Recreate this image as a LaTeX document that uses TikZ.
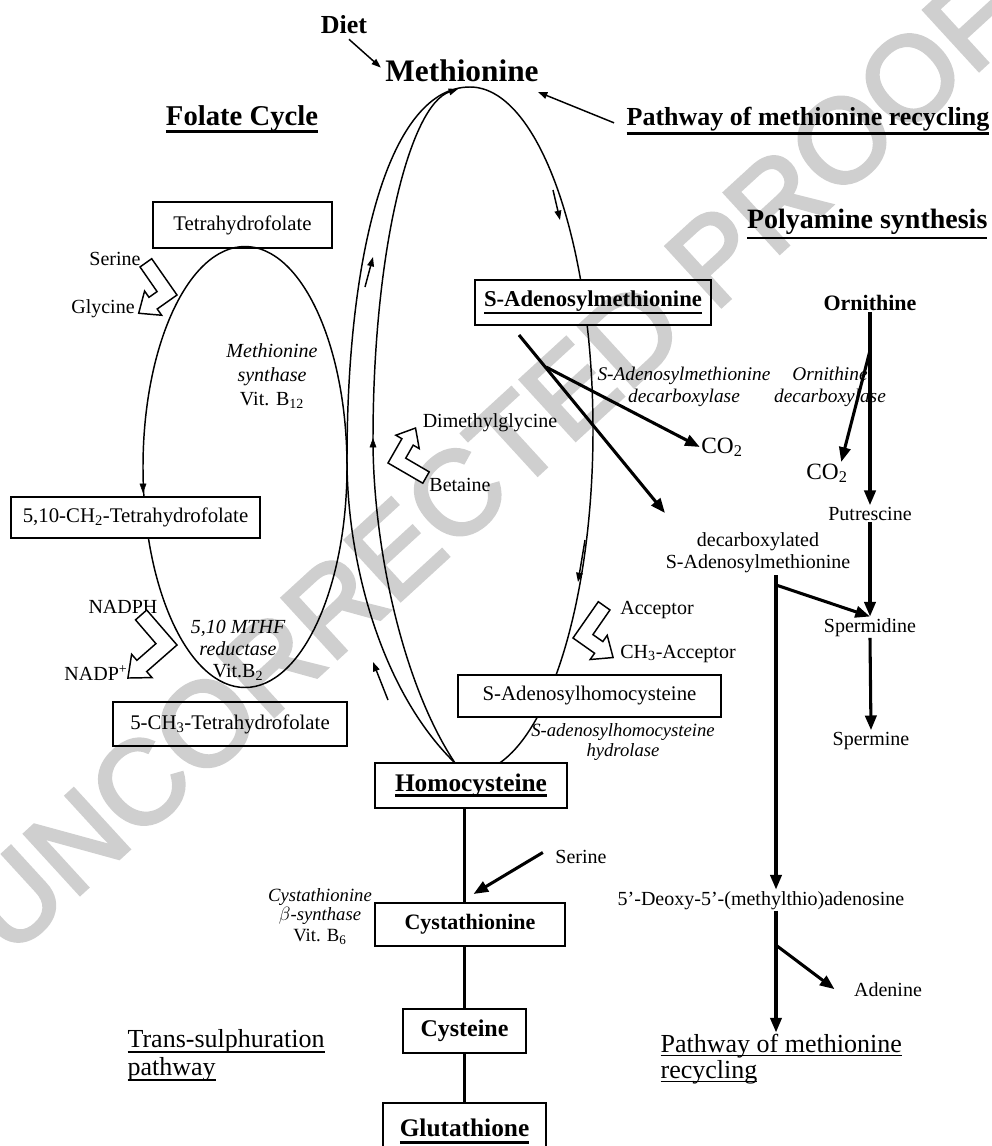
\documentclass[tikz,border=0pt]{standalone}
\usepackage{fontspec}
\setmainfont{Liberation Serif}
\setsansfont{Liberation Sans}
\newfontfamily\proofmark{Liberation Sans}[FakeBold=3]
\usetikzlibrary{arrows.meta,calc}

\newcommand\fs[2]{\fontsize{#1}{#2}\selectfont}
% text with a bar under it: depth, thickness, text
\newcommand\ulbar[3]{\setbox0\hbox{#3}\leavevmode\rlap{\rule[-#1]{\wd0}{#2}}\box0}
% hollow bent arrow: position, transform, length of the arrow arm
\newcommand\hollowbend[3]{%
  \pgfmathsetmacro\hbx{-0.817*#3}%
  \pgfmathsetmacro\hby{0.577*#3}%
  \begin{scope}[shift={#1},#2]
    \draw[hollow] (0,0) -- (-23,-33) -- (-33.6,-25.5) -- (-18.1,-3.1)
      -- ({\hbx-7.5},{\hby-10.6}) -- ({\hbx-11.5},{\hby-16.3})
      -- ({\hbx-16.85},{\hby+3.9}) -- ({\hbx+4},{\hby+5.7})
      -- (\hbx,\hby) -- cycle;
  \end{scope}}

\begin{document}
\begin{tikzpicture}[x=0.75pt, y=-0.75pt,
  every node/.style={inner sep=1pt},
  txt/.style={font=\fs{15}{16.5}},
  boxtxt/.style={font=\fs{15.6}{17}},
  enz/.style={font=\fs{15}{18}\itshape, align=center},
  boxed/.style={draw, line width=1.5pt, inner sep=0pt},
  curve/.style={line width=1.1pt},
  tip/.style={-{Triangle[length=7pt,width=5pt]}},
  fat/.style={line width=2.3pt},
  fatarrow/.style={line width=2.3pt, -{Triangle[length=11pt,width=8.5pt]}},
  hollow/.style={line width=1.1pt, fill=white, line join=miter}]

\useasboundingbox (0,0) rectangle (992,1146);

% watermark
\node[rotate=42.5, text=black!19, font=\fs{89}{89}\proofmark] (proof) at (490,463) {UNCORRECTED PROOF};

% boxes
\node[boxed, boxtxt, minimum width=134.25pt, minimum height=34.5pt] (thf) at (242.5,225) {Tetrahydrofolate};
\node[boxed, boxtxt, minimum width=186.75pt, minimum height=30.75pt] (mthf510) at (135.5,517.5) {5,10-CH\textsubscript{2}-Tetrahydrofolate};
\node[boxed, boxtxt, minimum width=175.5pt, minimum height=33pt] (mthf5) at (230,724) {5-CH\textsubscript{3}-Tetrahydrofolate};
\node[boxed, font=\fs{17}{20}\bfseries, minimum width=177pt, minimum height=33.75pt] (sam) at (593,302.5) {\ulbar{6pt}{2pt}{S-Adenosylmethionine}};
\node[boxed, boxtxt, minimum width=197.25pt, minimum height=31.5pt] (sah) at (589.5,696) {S-Adenosylhomocysteine};
\node[boxed, font=\fs{19}{22}\bfseries, minimum width=144pt, minimum height=33.75pt] (hcy) at (471,785.5) {\ulbar{4pt}{2.2pt}{Homocysteine}};
\node[boxed, font=\fs{16.5}{20}\bfseries, minimum width=142.5pt, minimum height=32.25pt] (cysta) at (470,924.5) {Cystathionine};
\node[boxed, font=\fs{18}{20}\bfseries, minimum width=92.25pt, minimum height=33pt] (cys) at (464.5,1031) {Cysteine};
\node[boxed, font=\fs{19}{22}\bfseries, minimum width=122.25pt, minimum height=42.75pt] (gsh) at (464.5,1131.5) {\ulbar{5pt}{2pt}{Glutathione}};

% headings
\node[anchor=base, font=\fs{19.5}{22}\bfseries] (diet) at (344,33) {Diet};
\node[anchor=base, font=\fs{23.5}{26}\bfseries] (met) at (462,81) {Methionine};
\node[anchor=base, font=\fs{21.5}{24}\bfseries] (folate) at (242,125) {\ulbar{6pt}{2.2pt}{Folate Cycle}};
\node[anchor=base east, font=\fs{19.5}{22}\bfseries] (ptop) at (991,125) {\ulbar{7.5pt}{2.2pt}{Pathway of methionine recycling}};
\node[anchor=base east, font=\fs{21}{24}\bfseries] (poly) at (989,228) {\ulbar{8.5pt}{2pt}{Polyamine synthesis}};

% folate cycle labels
\node[txt, anchor=base] (ser1) at (115,265) {Serine};
\node[txt, anchor=base] (gly) at (103,313) {Glycine};
\node[enz] (ms) at (272,376) {Methionine\\synthase\\\upshape Vit. B\textsubscript{12}};
\node[enz, font=\fs{15}{16.5}\itshape] (mthfr) at (238,650) {5,10 MTHF\\reductase\\\upshape Vit.B\textsubscript{2}};
\node[txt, anchor=base] (nadph) at (123,613) {NADPH};
\node[txt, anchor=base] (nadp) at (96,680) {NADP\textsuperscript{+}};

% methionine cycle labels
\node[txt, anchor=base] (dmg) at (490,427) {Dimethylglycine};
\node[txt, anchor=base] (bet) at (460,491) {Betaine};
\node[txt, anchor=base] (acc) at (657,614) {Acceptor};
\node[txt, anchor=base] (ch3acc) at (678,658) {CH\textsubscript{3}-Acceptor};
\node[enz, font=\fs{14}{15}\itshape] (sahh) at (623,742) {S-adenosylhomocysteine\\hydrolase};

% polyamine labels
\node[enz, font=\fs{14.5}{17}\itshape] (samdc) at (684,387) {S-Adenosylmethionine\\decarboxylase};
\node[enz, font=\fs{14.5}{17}\itshape] (odc) at (830,387) {Ornithine\\decarboxylase};
\node[anchor=base, font=\fs{16.5}{20}\bfseries] (orn) at (870,310) {Ornithine};
\node[anchor=base, font=\fs{17.5}{20}] (co2a) at (722,453) {CO\textsubscript{2}};
\node[anchor=base, font=\fs{17.5}{20}] (co2b) at (827,479) {CO\textsubscript{2}};
\node[txt, anchor=base] (put) at (870,520) {Putrescine};
\node[txt, align=center] (dcsam) at (758,553) {decarboxylated\\S-Adenosylmethionine};
\node[txt, anchor=base] (spd) at (870,632) {Spermidine};
\node[txt, anchor=base] (spm) at (871,745) {Spermine};
\node[txt, anchor=base] (mta) at (761,905) {5’-Deoxy-5’-(methylthio)adenosine};
\node[txt, anchor=base] (ade) at (888,996) {Adenine};
\node[font=\fs{19.5}{19.5}, align=left, anchor=west] (pbot) at (659,1059) {\ulbar{2.5pt}{0.8pt}{Pathway of methionine}\\\ulbar{2.5pt}{0.8pt}{recycling}};

% trans-sulphuration labels
\node[txt, anchor=base] (ser2) at (581,863) {Serine};
\node[enz, font=\fs{14}{13}\itshape] (cbs) at (320,917) {Cystathionine\\$\beta$-synthase\\[3pt]\upshape Vit. B\textsubscript{6}};
\node[font=\fs{19.5}{21}, align=left, anchor=west] (tsp) at (126,1055) {\ulbar{4pt}{0.8pt}{Trans-sulphuration}\\\ulbar{4pt}{0.8pt}{pathway}};

% cycles, kept out of the boxes
\begin{scope}[even odd rule]
\clip (-10,-10) rectangle (1010,1170)
  (sam.south west) rectangle (sam.north east)
  (sah.south west) rectangle (sah.north east)
  (hcy.south west) rectangle (hcy.north east)
  (mthf510.south west) rectangle (mthf510.north east);
\draw[curve] (245,467) ellipse [x radius=102, y radius=220.5];
\coordinate (hcyin) at (455,763);
\draw[curve] (hcyin) .. controls (380,690) and (347,560) .. (347,460)
  .. controls (347,250) and (390,87) .. (470,87)
  .. controls (538,87) and (593,241) .. (593,430)
  .. controls (593,619) and (538,773) .. (470,773);
\draw[curve, tip] (hcyin) .. controls (400,680) and (373,540) .. (373,440)
  .. controls (373,250) and (410,105) .. (458,89);
\end{scope}
\draw[tip] (143,478) -- (143,493);
\draw[tip] (373,452) -- (373,438);

% small side arrows
\draw[curve, tip] (365,287) -- (373,257);
\draw[curve, tip] (388,700) -- (373,662);
\draw[curve, tip] (553,190) -- (560,220);
\draw[curve, tip] (585,540) -- (578,582);

% hollow arrows
\hollowbend{(177,295)}{scale=1.1}{22}
\hollowbend{(177,645)}{rotate=6,scale=1.15}{35}
\hollowbend{(388,463)}{rotate=-155}{28}
\hollowbend{(573,638)}{xscale=-1.1,yscale=1.1}{24}

% into methionine
\coordinate (metr) at (538,92);
\draw[curve, tip, shorten <=5pt, shorten >=3pt] (diet.south) -- (met.west);
\draw[curve, tip] ($(ptop.west)+(-11,2)$) -- (metr);

% polyamines
\coordinate (samout) at (519,335);
\coordinate (sambr) at (546,367);
\coordinate (dcin) at (665,513);
\draw[fatarrow] (samout) -- (dcin);
\draw[fatarrow] (sambr) -- (co2a.west);
\coordinate (ornbr) at ($(orn.south)!0.2!(put.north)$);
\draw[fatarrow] (orn.south) -- (put.north);
\draw[fatarrow] (ornbr) -- ($(co2b.north east)+(-8,0)$);
\draw[fatarrow] (put.south) -- (spd.north);
\draw[fatarrow] (spd.south) -- (spm.north);
\coordinate (dcv) at (776,575);
\draw[fatarrow] (dcv) -- (dcv |- mta.north);
\draw[fatarrow] ($(dcv)+(0,10)$) -- (spd.north);
\draw[fatarrow] (dcv |- mta.south) -- (dcv |- pbot.north);
\coordinate (adebr) at ($(dcv |- mta.south)+(1,35)$);
\draw[fatarrow] (adebr) -- ($(ade.west)+(-18,0)$);

% trans-sulphuration
\draw[fat] (hcy.south -| cys) -- (cysta.north -| cys);
\draw[fat] (cysta.south -| cys) -- (cys.north);
\draw[fat] (cys.south) -- (gsh.north -| cys);
\draw[fatarrow] ($(ser2.west)+(-11,-4)$) -- ($(cysta.north -| cys)+(9,-8)$);
\end{tikzpicture}
\end{document}
